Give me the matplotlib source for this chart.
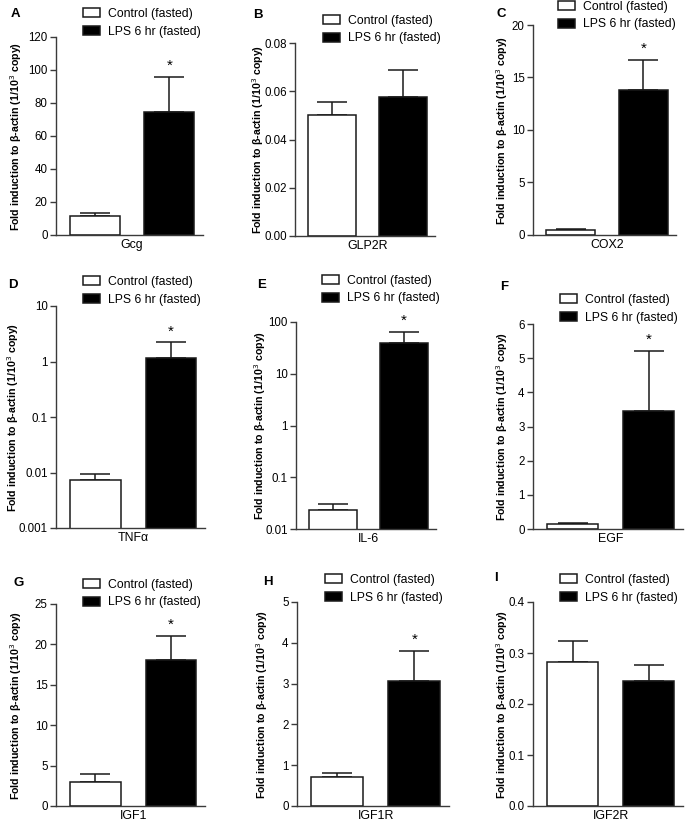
import matplotlib
matplotlib.use("Agg")
import matplotlib.pyplot as plt
from matplotlib.ticker import FixedLocator, NullLocator

plt.rcParams['font.family'] = ['Liberation Sans', 'DejaVu Sans']

# ---------------- data ----------------
panel_letters = ["A", "B", "C", "D", "E", "F", "G", "H", "I"]
genes = ["Gcg", "GLP2R", "COX2", "TNFα", "IL-6", "EGF", "IGF1", "IGF1R", "IGF2R"]
series_names = ["Control (fasted)", "LPS 6 hr (fasted)"]
control_mean = [11.5, 0.050, 0.50, 0.0073, 0.023, 0.15, 3.0, 0.70, 0.282]
control_err = [2.0, 0.0055, 0.10, 0.0022, 0.007, 0.04, 0.9, 0.10, 0.041]
lps_mean = [74.5, 0.0575, 13.8, 1.15, 40.0, 3.45, 18.1, 3.07, 0.245]
lps_err = [21.0, 0.0115, 2.9, 1.05, 23.0, 1.77, 2.9, 0.74, 0.032]
significant = [True, False, True, True, True, True, True, True, False]
y_ticks = [
    [0, 20, 40, 60, 80, 100, 120],
    [0.00, 0.02, 0.04, 0.06, 0.08],
    [0, 5, 10, 15, 20],
    [0.001, 0.01, 0.1, 1, 10],
    [0.01, 0.1, 1, 10, 100],
    [0, 1, 2, 3, 4, 5, 6],
    [0, 5, 10, 15, 20, 25],
    [0, 1, 2, 3, 4, 5],
    [0.0, 0.1, 0.2, 0.3, 0.4],
]
y_ticklabels = [
    ["0", "20", "40", "60", "80", "100", "120"],
    ["0.00", "0.02", "0.04", "0.06", "0.08"],
    ["0", "5", "10", "15", "20"],
    ["0.001", "0.01", "0.1", "1", "10"],
    ["0.01", "0.1", "1", "10", "100"],
    ["0", "1", "2", "3", "4", "5", "6"],
    ["0", "5", "10", "15", "20", "25"],
    ["0", "1", "2", "3", "4", "5"],
    ["0.0", "0.1", "0.2", "0.3", "0.4"],
]
log_scale = [False, False, False, True, True, False, False, False, False]
y_label = "Fold induction to β-actin (1/10$^{3}$ copy)"

# ---------------- layout (pixels) ----------------
W, H = 685, 824
# spine x, right x, top y, bottom y
rects = [
    (56, 203, 37, 235), (295, 435, 43, 236), (533, 676, 25, 235),
    (56, 205, 306, 528), (296, 436, 322, 529), (533, 683, 324, 529),
    (56, 205, 604, 806), (297, 449, 602, 806), (533, 683, 602, 806),
]
# legend patch top-left (x, y)
leg_pos = [(83, 10), (323, 17), (558, 3), (83, 278), (322, 277), (560, 296),
           (83, 581), (325, 576), (560, 576)]
letter_pos = [(11, 14), (253, 15), (496, 14), (8, 285), (257, 285), (500, 287),
              (13, 583), (263, 582), (494, 578)]
ylabel_x = [16, 258, 502, 13, 260, 502, 16, 262, 502]

fig = plt.figure(figsize=(W / 100, H / 100), dpi=100)
spine_col = "#3a3a3a"
edge_col = "#1a1a1a"
bw = 0.67
xs = [0, 1]

for i in range(9):
    x0, x1, yt, yb = rects[i]
    ax = fig.add_axes([x0 / W, 1 - yb / H, (x1 - x0) / W, (yb - yt) / H])
    bars_c = ax.bar(xs[0], control_mean[i], width=bw, color="white", edgecolor=edge_col,
                    linewidth=1.1, label=series_names[0], zorder=2)
    bars_l = ax.bar(xs[1], lps_mean[i], width=bw, color="black", edgecolor=edge_col,
                    linewidth=1.1, label=series_names[1], zorder=2)
    ax.errorbar(xs, [control_mean[i], lps_mean[i]],
                yerr=[[0, 0], [control_err[i], lps_err[i]]],
                fmt="none", ecolor=edge_col, elinewidth=1.1, capsize=11, capthick=1.1, zorder=1)
    if log_scale[i]:
        ax.set_yscale("log")
    ax.set_ylim(y_ticks[i][0], y_ticks[i][-1])
    ax.yaxis.set_major_locator(FixedLocator(y_ticks[i]))
    ax.set_yticklabels(y_ticklabels[i])
    ax.yaxis.set_minor_locator(NullLocator())
    ax.set_xlim(-0.52, 1.45)
    ax.set_xticks([0.5])
    ax.set_xticklabels([genes[i]], fontsize=8.9)
    ax.tick_params(axis="x", length=0, pad=3)
    ax.tick_params(axis="y", length=4, width=1, color=spine_col, labelsize=8.3, pad=2)
    for s in ["top", "right"]:
        ax.spines[s].set_visible(False)
    for s in ["left", "bottom"]:
        ax.spines[s].set_color(spine_col)
        ax.spines[s].set_linewidth(1.0)
    if significant[i]:
        top = lps_mean[i] + lps_err[i]
        ax.annotate("*", xy=(xs[1], top), xytext=(0, 3), textcoords="offset points",
                    ha="center", va="bottom", fontsize=11)
    fig.text(ylabel_x[i] / W, 1 - (yt + yb) / 2 / H, y_label, rotation=90,
             ha="center", va="center", fontsize=7.7, fontweight="bold")
    fig.text(letter_pos[i][0] / W, 1 - letter_pos[i][1] / H, panel_letters[i],
             ha="left", va="center", fontsize=9.5, fontweight="bold")
    lx, ly = leg_pos[i]
    fig.legend(handles=[bars_c, bars_l], labels=series_names,
               loc="upper left", bbox_to_anchor=(lx / W, 1 - (ly - 2) / H),
               frameon=False, fontsize=8.8, borderpad=0, borderaxespad=0,
               handlelength=1.35, handleheight=0.8, handletextpad=0.7, labelspacing=0.45)

fig.savefig("out.png", dpi=100)
